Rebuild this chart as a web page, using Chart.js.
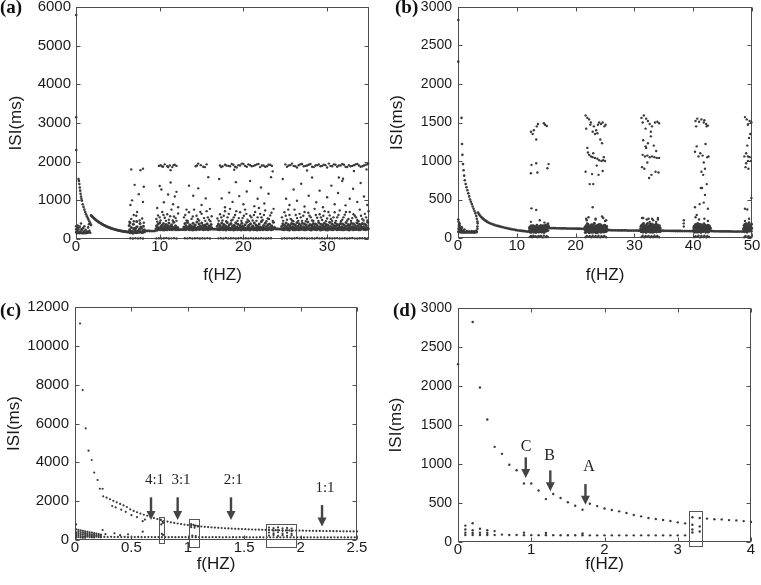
<!DOCTYPE html>
<html><head><meta charset="utf-8">
<script src="https://cdn.jsdelivr.net/npm/chart.js@4.4.0/dist/chart.umd.min.js"></script>
<style>
html,body{margin:0;padding:0;background:#fff;width:761px;height:585px;overflow:hidden;position:relative}
canvas{position:absolute}
.pl{position:absolute;font-family:"Liberation Serif","Times New Roman",serif;font-weight:bold;font-size:19px;line-height:19px;color:#111}
</style></head><body>
<canvas id="ca" width="380" height="290" style="left:0px;top:0px"></canvas>
<canvas id="cb" width="381" height="290" style="left:380px;top:0px"></canvas>
<canvas id="cc" width="380" height="295" style="left:0px;top:290px"></canvas>
<canvas id="cd" width="381" height="295" style="left:380px;top:290px"></canvas>
<div class="pl" style="left:0px;top:-3px">(a)</div>
<div class="pl" style="left:395px;top:-3px">(b)</div>
<div class="pl" style="left:0px;top:300px">(c)</div>
<div class="pl" style="left:393px;top:300px">(d)</div>
<script>
// ---------------- Panel (a) ----------------
const aXTicks=[0,10,20,30];
const aYTicks=[0,1000,2000,3000,4000,5000,6000];
const aEdgeX=[0.02,0.02,0.03];
const aEdgeY=[5790,3150,2300];
const aBurstX=[0.05,0.1,0.15,0.2,0.3,0.35,0.4,0.5,0.55,0.6,0.7,0.75,0.8,0.9,1.0,1.05,1.1,1.2,1.3,1.35,1.4,1.5,1.6,1.7,0.25,0.45,0.65,0.85,1.15,1.45,0.2,0.6,1.0,1.55,0.02,0.02,0.02];
const aBurstY=[180,150,210,160,250,175,150,190,155,170,230,150,165,150,200,160,150,170,155,190,160,175,210,160,290,320,260,280,240,300,350,400,330,380,180,250,330];
const aCurve1X=[0.3,0.35,0.4,0.45,0.5,0.55,0.6,0.65,0.7,0.8,0.9,1.0,1.1,1.2,1.3,1.4,1.5,1.6,1.7,1.8];
const aCurve1Y=[1550,1500,1420,1330,1250,1170,1100,1040,990,900,830,760,700,640,590,540,500,450,410,360];
const aCurve2X=[1.8,1.9,2.0,2.1,2.2,2.3,2.4,2.5,2.6,2.7,2.8,2.9,3.0,3.1,3.2,3.3,3.4,3.5,3.6,3.7,3.8,3.9,4.0,4.1,4.2,4.3,4.4,4.5,4.6,4.7,4.8,4.9,5.0,5.1,5.2,5.3,5.4,5.5,5.6,5.7,5.8,5.9,6.0,6.1,6.2,
6.4,6.7,7.0,7.3,7.6,7.9,8.2,8.4,8.6,8.8,9.0,9.2,9.4,12.35,12.5,12.65,16.35,16.5,16.65,23.85,24.0,24.15,24.3,24.45];
const aCurve2Y=[610,590,565,545,525,505,488,470,455,440,425,412,398,385,372,360,349,338,328,318,309,300,292,284,276,269,262,255,249,243,237,231,226,221,216,211,207,203,199,195,191,188,185,182,179,
176,173,170,172,175,178,182,210,208,207,206,205,204,245,243,242,255,254,253,260,259,258,257,256];
const aCoreX=[
6.3,6.4,6.5,6.6,6.7,6.8,6.9,7.0,7.1,7.2,7.3,7.4,7.5,7.6,7.7,7.8,7.9,8.0,8.1,6.35,6.55,6.75,6.95,7.15,7.35,7.55,7.75,7.95,8.15,6.45,6.85,7.25,7.65,8.05,
9.55,9.62,9.68,9.74,9.81,9.88,9.93,10.0,10.06,10.13,10.19,10.26,10.33,10.38,10.45,10.52,10.58,10.64,10.71,10.77,10.84,10.9,10.97,11.03,11.1,11.16,11.23,11.29,11.36,11.42,11.49,11.55,11.62,11.68,11.75,11.81,11.88,11.94,12.01,12.08,12.15,12.22,
12.82,12.88,12.95,13.01,13.08,13.14,13.2,13.27,13.33,13.4,13.46,13.53,13.59,13.66,13.72,13.79,13.85,13.92,13.98,14.05,14.11,14.18,14.24,14.31,14.37,14.44,14.5,14.57,14.63,14.7,14.76,14.83,14.89,14.96,15.02,15.09,15.15,15.22,15.28,15.35,15.41,15.48,15.54,15.61,15.67,15.74,15.8,15.87,15.93,16.0,16.07,16.14,16.21,
16.82,16.88,16.95,17.01,17.08,17.14,17.21,17.27,17.34,17.4,17.47,17.53,17.6,17.66,17.73,17.79,17.86,17.92,17.99,18.05,18.12,18.18,18.25,18.31,18.38,18.44,18.51,18.57,18.64,18.7,18.77,18.83,18.9,18.96,19.03,19.09,19.16,19.22,19.29,19.35,19.42,19.48,19.55,19.61,19.68,19.74,19.81,19.87,19.94,20.0,20.07,20.13,20.2,20.26,20.33,20.39,20.46,20.52,20.59,20.65,20.72,20.78,20.85,20.91,20.98,21.04,21.11,21.17,21.24,21.3,21.37,21.43,21.5,21.56,21.63,21.69,21.76,21.82,21.89,21.95,22.02,22.08,22.15,22.21,22.28,22.34,22.41,22.47,22.54,22.6,22.67,22.73,22.8,22.86,22.93,22.99,23.06,23.12,23.19,23.25,23.32,23.38,23.45,23.51,23.58,23.64,23.71,
24.52,24.58,24.65,24.71,24.78,24.84,24.91,24.97,25.04,25.1,25.17,25.23,25.3,25.36,25.43,25.49,25.56,25.62,25.69,25.75,25.82,25.88,25.95,26.01,26.08,26.14,26.21,26.27,26.34,26.4,26.47,26.53,26.6,26.66,26.73,26.79,26.86,26.92,26.99,27.05,27.12,27.18,27.25,27.31,27.38,27.44,27.51,27.57,27.64,27.7,27.77,27.83,27.9,27.96,28.03,28.09,28.16,28.22,28.29,28.35,28.42,28.48,28.55,28.61,28.68,28.74,28.81,28.87,28.94,29.0,29.07,29.13,29.2,29.26,29.33,29.39,29.46,29.52,29.59,29.65,29.72,29.78,29.85,29.91,29.98,30.04,30.11,30.17,30.24,30.3,30.37,30.43,30.5,30.56,30.63,30.69,30.76,30.82,30.89,30.95,31.02,31.08,31.15,31.21,31.28,31.34,31.41,31.47,31.54,31.6,31.67,31.73,31.8,31.86,31.93,31.99,32.06,32.12,32.19,32.25,32.32,32.38,32.45,32.51,32.58,32.64,32.71,32.77,32.84,32.9,32.97,33.03,33.1,33.16,33.23,33.29,33.36,33.42,33.49,33.55,33.62,33.68,33.75,33.81,33.88,33.94,34.01,34.07,34.14,34.2,34.27,34.33,34.4,34.46,34.53,34.59,34.66,34.72,34.79,34.85,34.92];
const aCoreY=[
180,240,160,300,200,150,270,190,230,160,320,210,175,260,190,280,165,220,195,350,200,170,250,290,180,230,310,170,240,420,380,450,400,330,
262,340,228,301,385,250,276,420,238,318,266,355,241,290,402,233,327,270,248,376,295,236,342,260,415,283,244,331,258,367,240,302,274,432,251,288,345,237,312,266,298,241,
248,311,272,398,236,345,289,257,427,264,318,242,370,281,253,336,299,231,408,268,322,247,361,285,239,442,276,305,258,389,244,331,267,295,416,250,348,238,303,279,365,246,320,262,397,285,241,337,270,309,252,378,290,
257,329,243,388,271,236,352,295,249,412,266,318,238,374,283,255,341,230,297,429,262,315,246,367,278,240,398,287,253,334,269,235,356,301,247,421,274,311,239,382,260,292,244,348,305,233,405,268,327,251,290,242,371,279,236,436,259,319,247,353,284,231,394,270,306,252,339,264,237,417,288,245,362,273,232,328,296,254,385,241,313,266,450,249,300,237,346,281,258,408,243,323,270,236,367,292,251,389,262,314,240,341,277,255,430,268,302,
268,331,245,392,279,238,356,300,251,417,263,322,240,373,286,233,349,297,256,404,271,316,242,381,290,236,360,305,248,425,265,327,239,395,282,244,352,298,253,410,274,320,237,386,289,241,365,302,250,438,262,334,246,377,284,232,358,309,255,399,270,325,243,390,281,239,347,296,258,420,266,318,235,383,292,247,362,303,249,406,273,329,241,375,287,234,355,299,252,431,264,321,244,396,280,238,350,307,257,413,269,336,240,379,291,245,363,301,246,402,275,319,236,388,283,242,354,296,254,427,261,332,247,374,288,233,359,304,251,409,272,323,239,393,285,246,351,300,248,418,267,330,242,380,290,237,366,306,256,400,270,317,245,387,282,240,357,298,253,433,265];
const aHaloX=[6.4,6.6,6.9,7.2,7.6,7.9,8.1,9.6,9.8,10.1,10.3,10.6,10.9,11.1,11.4,11.7,12.0,12.2,12.9,13.2,13.5,13.8,14.1,14.4,14.7,15.0,15.3,15.6,15.9,16.2,
16.9,17.2,17.5,17.8,18.1,18.4,18.7,19.0,19.3,19.6,19.9,20.2,20.5,20.8,21.1,21.4,21.7,22.0,22.3,22.6,22.9,23.2,23.5,
24.6,24.9,25.2,25.5,25.8,26.1,26.4,26.7,27.0,27.3,27.6,27.9,28.2,28.5,28.8,29.1,29.4,29.7,30.0,30.3,30.6,30.9,31.2,31.5,31.8,32.1,32.4,32.7,33.0,33.3,33.6,33.9,34.2,34.5,34.8,
9.7,10.0,10.45,10.75,11.25,11.55,11.9,13.05,13.35,13.95,14.55,14.85,15.45,15.75,16.05,
17.05,17.35,17.65,17.95,18.25,18.55,18.85,19.15,19.45,19.75,20.05,20.35,20.65,20.95,21.25,21.55,21.85,22.15,22.45,22.75,23.05,23.35,
24.75,25.05,25.35,25.65,25.95,26.25,26.55,26.85,27.15,27.45,27.75,28.05,28.35,28.65,28.95,29.25,29.55,29.85,30.15,30.45,30.75,31.05,31.35,31.65,31.95,32.25,32.55,32.85,33.15,33.45,33.75,34.05,34.35,34.65,34.95];
const aHaloY=[450,520,460,600,480,530,420,520,610,480,700,550,640,500,760,580,470,660,560,480,690,520,760,600,480,650,540,720,500,590,
530,640,480,720,560,780,500,620,470,690,540,760,500,600,480,700,560,650,490,740,530,610,470,
560,690,500,620,480,760,540,650,470,700,520,600,480,780,550,640,490,720,530,610,470,690,560,740,500,630,480,700,540,600,490,760,520,650,480,
450,560,620,470,590,480,540,620,470,580,520,700,470,560,460,
470,560,600,460,650,480,560,720,540,470,600,650,460,560,620,470,800,560,620,460,520,680,
470,600,760,520,460,620,470,560,600,460,680,560,470,620,470,560,600,460,700,520,560,470,620,460,560,700,520,470,640,560,460,600,480,560,720];
const aMidX=[6.5,6.7,7.0,7.5,7.3,6.9,8.0,8.1,10.0,10.5,11.0,11.3,11.6,11.8,12.0,12.2,13.2,13.5,14.0,14.6,15.0,15.5,15.8,16.0,17.1,17.4,17.8,18.3,18.7,19.1,
19.5,20.0,20.4,20.8,21.3,21.7,22.1,22.5,23.0,23.3,23.6,24.7,25.1,25.5,26.0,26.4,26.9,27.3,27.8,28.2,28.7,29.1,29.5,30.0,30.5,30.9,31.3,31.8,32.2,32.7,
33.1,33.6,34.0,34.4,34.8,9.7,10.2,11.3,18.9,23.5,27.6,31.4,31.9,33.2,34.7];
const aMidY=[880,1000,1400,1160,700,620,960,1350,1370,950,1150,1460,900,1100,1220,820,760,1380,1120,1310,880,1050,1600,780,1550,1050,820,1200,960,1470,
1110,900,1230,1500,850,1040,1330,920,1170,1600,780,1550,1040,880,1280,990,1430,840,1120,1590,950,1250,820,1080,1380,900,1190,1500,870,1040,
1300,960,1450,1100,880,800,1280,1780,1790,1750,1770,1590,1560,1760,1800];
const aTopX=[9.9,10.1,10.4,10.6,10.9,11.2,11.5,11.8,12.0,14.3,14.6,14.9,15.2,15.6,
17.2,17.5,17.8,18.2,18.6,19.0,19.4,19.8,20.2,20.6,21.0,21.4,21.8,22.2,22.6,23.0,23.4,
25.0,25.4,25.8,26.2,26.6,27.0,27.4,27.8,28.2,28.6,29.0,29.4,29.8,30.2,30.6,31.0,31.4,31.8,32.2,32.6,33.0,33.4,33.8,34.2,34.6,34.9,6.6,7.7,8.0,
17.35,17.95,18.4,18.8,19.2,19.6,20.0,20.4,20.8,21.2,21.6,22.0,22.4,22.8,23.2,
25.2,25.6,26.0,26.4,26.8,27.2,27.6,28.0,28.4,28.8,29.2,29.6,30.0,30.4,30.8,31.2,31.6,32.0,32.4,32.8,33.2,33.6,34.0,34.4,34.8,10.25,11.0,11.65,14.45,15.4];
const aTopY=[1890,1910,1870,1930,1880,1900,1860,1920,1890,1880,1950,1910,1870,1930,
1900,1880,1920,1890,1940,1870,1910,1950,1890,1930,1880,1910,1940,1900,1870,1920,1890,
1930,1900,1950,1880,1910,1940,1890,1920,1870,1900,1930,1890,1910,1950,1880,1920,1900,1940,1870,1910,1890,1930,1900,1880,1920,1950,1800,1780,1820,
1860,1900,1880,1920,1850,1900,1940,1870,1910,1890,1930,1860,1900,1880,1920,
1870,1910,1890,1850,1930,1880,1900,1940,1860,1910,1880,1920,1850,1890,1930,1870,1900,1920,1860,1880,1910,1940,1870,1900,1930,1880,1860,1910,1900,1860];
const aZeroX=[6.5,6.8,7.1,7.4,7.7,8.0,9.6,9.9,10.2,10.5,10.8,11.1,11.4,11.7,12.0,13.0,13.3,13.6,13.9,14.2,14.5,14.8,15.1,15.4,15.7,16.0,
17.0,17.3,17.6,17.9,18.2,18.5,18.8,19.1,19.4,19.7,20.0,20.3,20.6,20.9,21.2,21.5,21.8,22.1,22.4,22.7,23.0,23.3,
24.6,24.9,25.2,25.5,25.8,26.1,26.4,26.7,27.0,27.3,27.6,27.9,28.2,28.5,28.8,29.1,29.4,29.7,30.0,30.3,30.6,30.9,31.2,31.5,31.8,32.1,32.4,32.7,33.0,33.3,33.6,33.9,34.2,34.5,34.8];
const aZeroY=[18,12,22,15,20,14,16,21,12,19,24,14,17,22,13,20,15,24,11,18,22,14,19,16,23,12,
17,21,13,25,15,19,22,12,18,24,14,20,16,23,11,19,15,22,17,13,21,18,
14,20,16,23,12,19,25,15,18,22,13,17,21,14,24,16,19,12,22,18,15,20,23,13,17,21,14,19,24,16,12,20,18,22,15];

// ---------------- Panel (b) ----------------
const bXTicks=[0,10,20,30,40,50];
const bYTicks=[0,500,1000,1500,2000,2500,3000];
const bEdgeX=[0.05,0.05];
const bEdgeY=[2830,2290];
const bBurstX=[0.05,0.1,0.15,0.2,0.25,0.3,0.35,0.4,0.5,0.6,0.7,0.8,0.9,1.0,1.2,1.4,1.6,1.8,2.0,2.2,2.4,2.6,2.8,3.0,3.2,0.1,0.2,0.3,0.45,0.55,0.65,0.05,0.15,0.25,0.35,1.1,1.5,1.9,2.3,2.7,3.1,3.3,3.3,
0.55,0.75,0.95,1.15,1.35,1.55,1.75,1.95,2.15,2.35,2.55,2.75,2.95,3.15];
const bBurstY=[80,120,90,140,100,75,130,85,78,120,77,76,100,76,75,75,75,80,75,75,76,75,75,76,80,210,180,160,110,95,140,240,160,190,105,110,90,85,90,88,95,120,150,
76,75,76,75,75,76,75,75,75,76,75,75,76,77];
const bCurve1X=[0.6,0.68,0.75,0.85,0.95,1.05,1.15,1.3,1.45,1.6,1.75,1.9,2.05,2.2,2.35,2.5,2.65,2.8,2.95,3.1,3.2,3.3,3.35];
const bCurve1Y=[1560,1220,1080,960,880,810,750,700,660,620,580,540,500,470,440,410,380,350,320,285,250,215,190];
const bCurve2X=[3.4,3.6,3.8,4.0,4.2,4.4,4.6,4.8,5.0,5.3,5.6,5.9,6.2,6.5,6.8,7.1,7.4,7.7,8.0,8.3,8.6,8.9,9.2,9.5,9.8,10.1,10.4,10.7,11.0,11.3,11.6,11.9,
15.6,15.9,16.2,16.5,16.8,17.1,17.4,17.7,18.0,18.3,18.6,18.9,19.2,19.5,19.8,20.1,20.4,20.7,21.0,21.3,
25.6,25.9,26.2,26.5,26.8,27.1,27.4,27.7,28.0,28.3,28.6,28.9,29.2,29.5,29.8,30.1,30.4,30.7,30.95,
34.6,34.9,35.2,35.5,35.8,36.1,36.4,36.7,37.0,37.3,37.6,37.9,38.2,38.5,38.8,39.1,39.4,39.7,39.95,
43.1,43.4,43.7,44.0,44.3,44.6,44.9,45.2,45.5,45.8,46.1,46.4,46.7,47.0,47.3,47.6,47.9,48.2,48.45];
const bCurve2Y=[330,305,285,268,253,241,230,219,208,196,186,177,169,162,156,150,144,138,132,127,122,117,113,109,104,100,97,94,91,88,85,82,
128,128,127,127,126,126,125,125,124,124,123,123,122,122,121,121,120,120,119,119,
101,101,100,100,100,99,99,99,98,98,98,97,97,97,96,96,96,95,95,
94,94,93,93,93,92,92,92,91,91,91,91,90,90,90,90,89,89,89,
88,88,87,87,87,86,86,86,85,85,85,85,84,84,84,84,83,83,83];
const bCoreX=[
12.12,12.2,12.31,12.38,12.47,12.55,12.66,12.73,12.84,12.92,13.01,13.1,13.19,13.27,13.38,13.46,13.55,13.63,13.74,13.82,13.91,14.0,14.1,14.18,14.29,14.37,14.46,14.55,14.64,14.73,14.83,14.91,15.02,15.11,15.2,15.3,15.41,
12.16,12.26,12.35,12.43,12.51,12.6,12.7,12.79,12.88,12.97,13.06,13.15,13.23,13.33,13.42,13.5,13.59,13.69,13.78,13.87,13.96,14.05,14.14,14.24,14.33,14.42,14.5,14.6,14.69,14.78,14.87,14.97,15.07,15.16,15.25,15.36,
21.55,21.63,21.72,21.8,21.9,21.98,22.07,22.16,22.25,22.33,22.43,22.51,22.6,22.69,22.78,22.86,22.96,23.04,23.13,23.22,23.31,23.4,23.49,23.57,23.67,23.75,23.84,23.93,24.02,24.11,24.2,24.28,24.38,24.46,24.55,24.64,24.73,24.82,24.91,25.0,25.1,25.19,25.3,25.4,
21.59,21.68,21.76,21.85,21.94,22.03,22.12,22.2,22.29,22.38,22.47,22.56,22.64,22.73,22.82,22.91,23.0,23.09,23.18,23.27,23.36,23.45,23.53,23.62,23.71,23.8,23.89,23.98,24.07,24.16,24.24,24.33,24.42,24.51,24.6,24.69,24.78,24.87,24.96,25.05,25.15,25.25,25.35,
31.05,31.14,31.22,31.31,31.4,31.49,31.57,31.66,31.75,31.84,31.93,32.01,32.1,32.19,32.28,32.37,32.45,32.54,32.63,32.72,32.81,32.9,32.98,33.07,33.16,33.25,33.34,33.42,33.51,33.6,33.69,33.78,33.87,33.95,34.04,34.13,34.22,34.31,34.4,
31.1,31.18,31.27,31.36,31.45,31.53,31.62,31.71,31.8,31.89,31.97,32.06,32.15,32.24,32.33,32.41,32.5,32.59,32.68,32.77,32.86,32.94,33.03,33.12,33.21,33.3,33.38,33.47,33.56,33.65,33.74,33.83,33.91,34.0,34.09,34.18,34.27,34.36,
40.05,40.14,40.23,40.32,40.41,40.5,40.59,40.68,40.77,40.86,40.95,41.04,41.13,41.22,41.31,41.4,41.49,41.58,41.67,41.76,41.85,41.94,42.03,42.12,42.21,42.3,42.39,42.48,42.57,42.66,42.75,42.84,42.93,
40.09,40.18,40.27,40.36,40.45,40.54,40.63,40.72,40.81,40.9,40.99,41.08,41.17,41.26,41.35,41.44,41.53,41.62,41.71,41.8,41.89,41.98,42.07,42.16,42.25,42.34,42.43,42.52,42.61,42.7,42.79,42.88,
48.55,48.64,48.72,48.81,48.9,48.98,49.07,49.16,49.24,49.33,49.42,49.5,49.59,49.68,49.76,49.85,49.93,
48.6,48.68,48.77,48.86,48.94,49.03,49.12,49.2,49.29,49.38,49.46,49.55,49.64,49.72,49.81,49.89,49.97];
const bCoreY=[
95,140,72,118,160,88,130,105,75,150,112,92,135,70,120,158,84,110,142,78,126,97,165,82,115,138,90,124,70,150,100,132,88,118,170,96,140,
128,84,146,100,76,136,92,160,118,86,150,74,124,104,168,90,136,78,116,152,88,130,106,74,148,98,160,112,132,86,168,110,144,150,128,162,
110,70,150,92,128,185,80,140,102,66,158,120,88,172,97,134,75,148,110,190,84,125,68,162,100,140,78,118,178,90,132,72,155,106,86,145,122,76,168,98,130,82,150,112,
140,96,72,164,118,100,176,84,130,150,90,108,142,74,160,116,100,182,126,78,154,96,138,112,70,166,102,148,84,120,174,94,136,80,158,104,144,122,88,160,110,142,96,
120,80,165,100,142,74,188,112,90,155,130,70,175,104,140,86,160,118,76,182,96,136,110,150,72,168,124,88,145,102,180,78,132,116,158,84,140,98,125,
150,110,88,172,126,96,140,160,118,80,154,100,132,190,84,124,146,100,134,160,76,118,180,92,138,108,166,80,124,150,96,142,170,88,120,104,160,80,
96,150,72,128,178,86,140,110,190,78,132,160,92,118,70,172,104,146,82,124,185,98,138,75,158,114,90,168,130,80,150,108,122,
130,110,160,92,124,150,76,168,118,144,100,82,176,138,120,96,160,84,150,104,130,166,88,120,140,98,150,76,118,162,94,136,
110,160,80,140,96,185,120,74,150,100,130,200,88,165,115,140,180,
128,96,176,118,150,84,162,110,136,180,92,126,150,104,170,88,124];
const bZeroX=[12.2,12.6,13.0,13.5,13.9,14.4,14.9,15.3,21.7,22.2,22.7,23.2,23.7,24.2,24.7,25.2,31.2,31.7,32.2,32.7,33.2,33.7,34.2,40.2,40.7,41.2,41.7,42.2,42.7,48.7,49.2,49.7,
12.4,12.8,13.2,13.7,14.1,14.6,15.1,21.9,22.4,22.9,23.4,23.9,24.4,24.9,31.4,31.9,32.4,32.9,33.4,33.9,40.4,40.9,41.4,41.9,42.4,48.9,49.4];
const bZeroY=[12,9,14,10,13,8,11,12,10,14,9,12,11,8,13,10,12,9,14,10,11,13,9,11,14,8,12,10,13,9,12,10,
26,30,24,28,27,31,25,28,24,30,26,29,25,27,30,26,28,24,29,27,25,29,27,30,26,28,24];
const bHighX=[12.4,12.9,13.4,13.3,14.6,15.1,14.8,13.6,12.5,13.3,12.4,13.5,15.4,15.2,12.5,13.3,12.7,
21.7,22.0,22.3,21.8,22.6,23.1,23.5,23.8,24.0,24.3,24.6,24.9,23.3,23.7,24.2,24.5,22.9,25.1,22.5,
22.1,22.3,22.6,22.9,23.3,23.7,24.0,24.4,24.7,25.0,22.0,23.0,24.8,
21.7,22.4,23.0,23.9,24.6,22.8,23.6,22.9,23.4,21.9,24.7,25.2,
31.2,31.6,32.0,32.3,31.4,32.6,33.0,33.5,33.9,34.2,31.9,32.8,
31.5,31.9,32.3,32.8,33.3,33.7,31.4,31.8,32.2,32.6,33.0,33.4,33.8,34.2,32.0,31.3,
31.7,32.5,32.9,33.6,34.1,32.2,31.5,32.1,33.0,34.0,32.6,
40.4,40.7,41.0,41.4,41.8,42.2,42.5,40.5,41.9,42.3,
40.6,41.2,41.6,42.1,42.4,40.9,41.8,42.0,41.4,41.7,42.6,40.3,
41.3,41.5,42.3,42.0,41.1,40.3,40.6,42.5,41.8,
48.8,49.1,49.6,49.9,49.3,48.7,49.0,49.3,49.6,49.8,49.2,49.5,49.7,48.9,49.4,49.0,49.3,48.8,49.2,49.9,
12.4,13.9,14.7,15.3,22.2,23.4,24.5,25.0,21.8,31.3,32.4,33.2,34.0,33.7,40.4,41.0,41.9,42.5,48.8,49.5,38.4,38.4,38.4];
const bHighY=[1380,1400,1450,1280,1490,1455,1470,1480,950,970,840,850,960,905,385,365,1350,
1590,1560,1540,1420,1500,1450,1400,1470,1500,1480,1500,1450,1350,1360,1280,1230,1380,1470,1470,
1110,1080,1060,1050,1040,1030,1010,1000,1010,1000,1170,1100,1050,
860,700,700,820,870,830,940,400,250,230,260,230,
1560,1590,1550,1520,1500,1480,1450,1500,1510,1490,1420,1380,
1270,1190,1230,1320,1200,1130,1080,1060,1070,1050,1060,1050,1040,1040,1170,920,
900,780,820,860,850,980,260,240,250,240,210,
1520,1550,1510,1540,1500,1480,1460,1450,1530,1450,
1190,1100,1070,1220,1050,1060,980,900,860,820,1060,1120,
650,650,700,560,440,400,300,380,460,
1570,1540,1520,1500,1470,1060,1100,1060,1050,1000,1200,1300,1350,920,900,970,1000,380,370,520,
210,230,200,190,270,240,280,220,250,260,250,230,260,210,270,240,250,220,220,250,150,190,230];

// ---------------- Panel (c) ----------------
const cXTicks=[0,0.5,1,1.5,2,2.5];
const cYTicks=[0,2000,4000,6000,8000,10000,12000];
const cTopX=[0.045,0.068,0.095,0.12,0.148,0.17,0.2,0.22,0.245];
const cTopY=[11150,7720,5750,4600,4120,3470,3090,2640,2640];
const cUpperX=[0.25,0.28,0.31,0.34,0.37,0.40,0.43,0.46,0.49,0.52,0.55,0.58,0.61,0.64,0.67,0.70,0.73,0.76,0.79,0.82,0.85,0.88,0.91,0.94,0.97,1.00,1.03,1.06,1.09,1.12,
1.15,1.18,1.21,1.24,1.27,1.30,1.33,1.36,1.39,1.42,1.45,1.48,1.51,1.54,1.57,1.60,1.63,1.66,1.69,1.72,1.75,1.78,1.81,1.84,1.87,1.90,1.93,1.96,1.99,2.02,
2.05,2.08,2.11,2.14,2.17,2.20,2.23,2.26,2.29,2.32,2.35,2.38,2.41,2.44,2.47,2.50,
0.33,0.36,0.41,0.45,0.5,0.55,0.6,0.62];
const cUpperY=[2250,2180,2100,2020,1940,1860,1780,1700,1580,1500,1430,1360,1300,1250,1190,1130,1080,1030,990,950,910,880,850,820,795,770,750,730,712,695,
680,666,652,640,628,617,606,596,587,578,570,562,555,548,542,536,530,525,520,515,511,507,503,499,495,492,489,486,483,480,
477,474,471,468,466,463,461,458,456,454,451,449,447,445,443,440,
1750,1680,1560,1450,1280,1180,970,1050];
const cStackX=[0.01,0.01,0.01,0.01,0.01,0.01,0.03,0.03,0.03,0.03,0.03,0.05,0.05,0.05,0.05,0.05,0.07,0.07,0.07,0.07,0.07,0.09,0.09,0.09,0.09,0.09,
0.11,0.11,0.11,0.11,0.13,0.13,0.13,0.13,0.15,0.15,0.15,0.15,0.17,0.17,0.17,0.17,0.19,0.19,0.19,0.21,0.21,0.21,0.23,0.23,0.23,
0.245,0.35,0.47,0.6,0.27,0.4];
const cStackY=[800,550,400,300,200,120,520,420,330,240,150,500,400,300,200,130,470,380,290,190,120,450,350,260,180,120,
420,330,250,170,400,300,220,150,380,280,200,140,350,260,190,130,330,240,170,300,220,150,280,200,140,
515,343,292,430,300,250];
const cLowerX=[0.26,0.29,0.32,0.35,0.38,0.41,0.44,0.47,0.5,0.53,0.56,0.59,0.62,0.65,0.68,0.71,0.74,0.77,0.8,0.83,0.86,0.89,0.92,0.95,0.98,1.01,1.04,1.07,1.1,1.13,
1.16,1.19,1.22,1.25,1.28,1.31,1.34,1.37,1.4,1.43,1.46,1.49,1.52,1.55,1.58,1.61,1.64,1.67,1.7,1.73,1.76,1.79,1.82,1.85,1.88,1.91,1.94,1.97,2.0,2.03,
2.06,2.09,2.12,2.15,2.18,2.21,2.24,2.27,2.3,2.33,2.36,2.39,2.42,2.45,2.48];
const cLowerY=[160,155,165,150,158,152,160,148,155,150,157,146,153,149,155,145,151,148,150,144,149,146,148,143,147,145,150,142,146,144,
147,141,145,143,146,140,144,142,145,139,143,141,144,138,142,140,143,137,141,139,142,136,140,138,141,136,139,137,140,135,
138,136,139,134,137,135,138,133,136,134,137,132,135,133,136];
const cBoxPtX=[0.76,0.775,0.78,0.765,0.77,0.78,1.03,1.05,1.07,1.09,1.03,1.06,1.04,1.07,
1.72,1.76,1.8,1.84,1.88,1.92,1.72,1.76,1.8,1.84,1.88,1.92,1.72,1.76,1.8,1.84,1.88,1.92,1.72,1.76,1.8,1.84,1.88,1.92];
const cBoxPtY=[1050,950,880,800,320,260,820,780,740,700,660,630,230,200,
640,610,650,600,620,590,520,480,510,470,500,460,380,340,400,330,370,320,230,260,210,250,220,240];
const cBoxX0=[0.745,1.008,1.69], cBoxX1=[0.79,1.10,1.957], cBoxY0=[-170,-345,-345], cBoxY1=[1200,1066,808];
const cArrowX=[0.674,0.91,1.383,2.19], cArrowTop=[2200,2200,2200,1800], cArrowTip=[1030,1030,1030,690];
const cLabelX=[0.705,0.94,1.403,2.216], cLabelY=[3090,3090,3090,2700], cLabelText=['4:1','3:1','2:1','1:1'];

// ---------------- Panel (d) ----------------
const dXTicks=[0,1,2,3,4];
const dYTicks=[0,500,1000,1500,2000,2500,3000];
const dUpperX=[0,0.2,0.3,0.4,0.5,0.6,0.7,0.8,0.9,1.0,1.1,1.2,1.3,1.4,1.5,1.6,1.7,1.8,1.9,2.0,2.1,2.2,2.3,2.4,2.5,2.6,2.7,2.8,2.9,3.0,3.1,3.4,3.5,3.6,3.7,3.8,3.9,4.0];
const dUpperY=[2280,2820,1980,1570,1220,1130,990,920,750,750,660,550,615,565,510,465,415,490,460,430,410,393,372,346,329,308,295,282,269,252,239,300,292,290,281,277,268,258];
const dBoxPtX=[3.2,3.3,3.2,3.3,3.2,3.3,3.2];
const dBoxPtY=[318,308,222,200,160,135,122];
const dLowerX=[0.1,0.1,0.1,0.1,0.2,0.2,0.2,0.2,0.3,0.3,0.3,0.4,0.4,0.4,0.5,0.5,0.6,0.7,0.8,0.9,0.9,1.0,1.1,1.2,1.2,1.3,1.4,1.5,1.6,1.7,1.7,1.8,1.9,2.0,2.1,2.2,2.3,2.4,2.5,2.6,2.7,2.8,2.9,3.0,3.1];
const dLowerY=[210,160,120,90,240,150,115,90,170,120,90,150,115,90,140,90,95,90,90,120,88,88,88,115,88,88,86,86,86,110,86,85,85,85,85,85,85,85,85,85,85,85,85,85,85];
const dBoxX0=[3.147], dBoxX1=[3.33], dBoxY0=[-56], dBoxY1=[401];
const dArrowX=[0.925,1.26,1.74], dArrowTop=[1085,918,743], dArrowTip=[820,650,478];
const dLabelX=[0.93,1.25,1.79], dLabelY=[1225,1110,960], dLabelText=['C','B','A'];

// ---------------- drawing ----------------
const FONT='"Liberation Sans", Arial, Helvetica, sans-serif';
const SERIF='"Liberation Serif", "Times New Roman", serif';
const DOT='#3a3a3a';
function pts(xs,ys){const n=Math.min(xs.length,ys.length),o=[];for(let i=0;i<n;i++)o.push({x:xs[i],y:ys[i]});return o;}
function ds(xs,ys,r){return {data:pts(xs,ys),pointRadius:r,pointHoverRadius:r,pointStyle:'circle',backgroundColor:DOT,borderWidth:0,clip:false,showLine:false};}

function framePlugin(ann){
  return {
    id:'frame',
    beforeDatasetsDraw(chart){
      const {ctx,chartArea:a,scales:{x,y}}=chart;
      const L=Math.round(a.left)+0.5,R=Math.round(a.right)-0.5,T=Math.round(a.top)+0.5,B=Math.round(a.bottom)-0.5;
      ctx.save();ctx.strokeStyle='#4d4d4d';ctx.lineWidth=1;
      ctx.strokeRect(L,T,R-L,B-T);
      ctx.beginPath();
      x.ticks.forEach(t=>{const px=Math.round(x.getPixelForValue(t.value))+0.5;ctx.moveTo(px,B);ctx.lineTo(px,B-4);ctx.moveTo(px,T);ctx.lineTo(px,T+4);});
      y.ticks.forEach(t=>{const py=Math.round(y.getPixelForValue(t.value))+0.5;ctx.moveTo(L,py);ctx.lineTo(L+4,py);ctx.moveTo(R,py);ctx.lineTo(R-4,py);});
      ctx.stroke();ctx.restore();
    },
    afterDatasetsDraw(chart){
      if(!ann)return;
      const {ctx,scales:{x,y}}=chart;
      ctx.save();
      ctx.strokeStyle='#555';ctx.lineWidth=1;
      for(let i=0;i<ann.bx0.length;i++){
        const x0=Math.round(x.getPixelForValue(ann.bx0[i]))+0.5,x1=Math.round(x.getPixelForValue(ann.bx1[i]))+0.5;
        const y0=Math.round(y.getPixelForValue(ann.by0[i]))+0.5,y1=Math.round(y.getPixelForValue(ann.by1[i]))+0.5;
        ctx.strokeRect(x0,y1,x1-x0,y0-y1);
      }
      ctx.fillStyle='#444';ctx.strokeStyle='#444';
      for(let i=0;i<ann.ax.length;i++){
        const px=x.getPixelForValue(ann.ax[i]),yt=y.getPixelForValue(ann.atop[i]),yp=y.getPixelForValue(ann.atip[i]);
        ctx.lineWidth=2.4;ctx.beginPath();ctx.moveTo(px,yt);ctx.lineTo(px,yp-7);ctx.stroke();
        ctx.beginPath();ctx.moveTo(px-4.5,yp-9);ctx.lineTo(px+4.5,yp-9);ctx.lineTo(px,yp);ctx.closePath();ctx.fill();
      }
      ctx.fillStyle='#222';ctx.font=ann.font;ctx.textAlign='center';ctx.textBaseline='middle';
      for(let i=0;i<ann.lx.length;i++){
        ctx.fillText(ann.lt[i],x.getPixelForValue(ann.lx[i]),y.getPixelForValue(ann.ly[i]));
      }
      ctx.restore();
    }
  };
}

function makeChart(id,datasets,p,ann){
  return new Chart(document.getElementById(id),{
    type:'scatter',
    data:{datasets},
    options:{
      responsive:false,animation:false,devicePixelRatio:1,events:[],
      layout:{padding:{left:0,top:p.top,right:p.right,bottom:0}},
      plugins:{legend:{display:false},tooltip:{enabled:false}},
      scales:{
        x:{type:'linear',min:p.xmin,max:p.xmax,
          grid:{display:false,drawTicks:false},border:{display:false},
          afterBuildTicks:s=>{s.ticks=p.xt.map(v=>({value:v}));},
          afterFit:s=>{s.height=p.xh;s.paddingLeft=0;s.paddingRight=0;},
          ticks:{autoSkip:false,maxRotation:0,minRotation:0,padding:0,color:'#1a1a1a',font:{family:FONT,size:p.xf,lineHeight:1},callback:v=>String(v)},
          title:{display:true,text:'f(HZ)',color:'#1a1a1a',font:{family:FONT,size:17},padding:{top:0,bottom:p.xtb}}},
        y:{type:'linear',min:p.ymin,max:p.ymax,
          grid:{display:false,drawTicks:false},border:{display:false},
          afterBuildTicks:s=>{s.ticks=p.yt.map(v=>({value:v}));},
          afterFit:s=>{s.width=p.yw;s.paddingTop=0;s.paddingBottom=0;},
          ticks:{autoSkip:false,padding:p.yp,color:'#1a1a1a',font:{family:p.yfam||FONT,size:p.yf,lineHeight:1},callback:v=>String(v)},
          title:{display:true,text:'ISI(ms)',color:'#1a1a1a',font:{family:FONT,size:17},padding:{top:p.ytp,bottom:0}}}
      }
    },
    plugins:[framePlugin(ann)]
  });
}

makeChart('ca',[
  ds(aCoreX,aCoreY,1.5),ds(aHaloX,aHaloY,1.2),ds(aMidX,aMidY,1.2),ds(aTopX,aTopY,1.2),ds(aZeroX,aZeroY,1.2),
  ds(aBurstX,aBurstY,1.3),ds(aCurve1X,aCurve1Y,1.3),ds(aCurve2X,aCurve2Y,1.4),ds(aEdgeX,aEdgeY,1.3)
],{top:7,right:11,yw:76,xh:51,xmin:0,xmax:35,ymin:0,ymax:6000,xt:aXTicks,yt:aYTicks,xf:15,yf:15,yp:5,xtb:4,ytp:6},null);

makeChart('cb',[
  ds(bCoreX,bCoreY,1.4),ds(bZeroX,bZeroY,1.2),ds(bHighX,bHighY,1.2),
  ds(bBurstX,bBurstY,1.3),ds(bCurve1X,bCurve1Y,1.3),ds(bCurve2X,bCurve2Y,1.4),ds(bEdgeX,bEdgeY,1.3)
],{top:7,right:9,yw:78,xh:52,xmin:0,xmax:50,ymin:0,ymax:3000,xt:bXTicks,yt:bYTicks,xf:15,yf:14,yp:6,xtb:4,ytp:7},null);

makeChart('cc',[
  ds(cTopX,cTopY,1.1),ds(cUpperX,cUpperY,1.1),ds(cStackX,cStackY,1.1),ds(cLowerX,cLowerY,1.1),ds(cBoxPtX,cBoxPtY,1.1)
],{top:17,right:23,yw:75,xh:45,xmin:0,xmax:2.5,ymin:0,ymax:12000,xt:cXTicks,yt:cYTicks,xf:15,yf:15,yfam:'"Liberation Sans Narrow", '+FONT,yp:6,xtb:10,ytp:4},
{bx0:cBoxX0,bx1:cBoxX1,by0:cBoxY0,by1:cBoxY1,ax:cArrowX,atop:cArrowTop,atip:cArrowTip,lx:cLabelX,ly:cLabelY,lt:cLabelText,font:'15px '+SERIF});

makeChart('cd',[
  ds(dUpperX,dUpperY,1.2),ds(dLowerX,dLowerY,1.2),ds(dBoxPtX,dBoxPtY,1.2)
],{top:18,right:10,yw:78,xh:43,xmin:0,xmax:4,ymin:0,ymax:3000,xt:dXTicks,yt:dYTicks,xf:15,yf:14,yp:6,xtb:10,ytp:6},
{bx0:dBoxX0,bx1:dBoxX1,by0:dBoxY0,by1:dBoxY1,ax:dArrowX,atop:dArrowTop,atip:dArrowTip,lx:dLabelX,ly:dLabelY,lt:dLabelText,font:'16px '+SERIF});
</script>
</body></html>
